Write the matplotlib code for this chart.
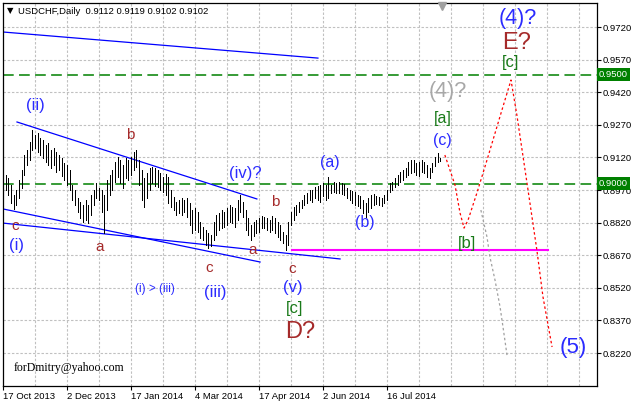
import matplotlib.pyplot as plt
import matplotlib.transforms as mtransforms
import numpy as np

# daily bars, USDCHF (bar index 1 = 17 Oct 2013)
highs = [0.9039, 0.9025, 0.8993, 0.8947, 0.8970, 0.9016, 0.9062, 0.9131, 0.9154, 0.9191,
         0.9246, 0.9223, 0.9232, 0.9209, 0.9200, 0.9177, 0.9186, 0.9154, 0.9163, 0.9145,
         0.9131, 0.9117, 0.9094, 0.9085, 0.9062, 0.8993, 0.8970, 0.8933, 0.8915, 0.8901,
         0.8924, 0.8901, 0.8947, 0.8970, 0.9002, 0.8979, 0.8970, 0.8947, 0.9016, 0.9039,
         0.9062, 0.9099, 0.9122, 0.9108, 0.9085, 0.9117, 0.9108, 0.9122, 0.9145, 0.9154,
         0.9108, 0.9062, 0.9025, 0.9048, 0.9071, 0.9076, 0.9071, 0.9062, 0.9048, 0.9030,
         0.9044, 0.9030, 0.8970, 0.8938, 0.8915, 0.8924, 0.8933, 0.8924, 0.8933, 0.8910,
         0.8878, 0.8887, 0.8869, 0.8823, 0.8800, 0.8786, 0.8772, 0.8763, 0.8823, 0.8855,
         0.8864, 0.8878, 0.8869, 0.8887, 0.8901, 0.8892, 0.8887, 0.8924, 0.8947, 0.8915,
         0.8878, 0.8841, 0.8809, 0.8823, 0.8832, 0.8841, 0.8851, 0.8846, 0.8841, 0.8832,
         0.8851, 0.8841, 0.8823, 0.8809, 0.8777, 0.8763, 0.8823, 0.8869, 0.8892, 0.8901,
         0.8915, 0.8924, 0.8947, 0.8956, 0.8970, 0.8970, 0.8984, 0.8989, 0.8993, 0.9002,
         0.8993, 0.9030, 0.8993, 0.9007, 0.9002, 0.9007, 0.9002, 0.8998, 0.8979, 0.8970,
         0.8966, 0.8961, 0.8947, 0.8943, 0.8924, 0.8910, 0.8933, 0.8947, 0.8952, 0.8943,
         0.8938, 0.8933, 0.8947, 0.8970, 0.9002, 0.9007, 0.9025, 0.9039, 0.9053, 0.9062,
         0.9071, 0.9099, 0.9108, 0.9108, 0.9094, 0.9099, 0.9108, 0.9099, 0.9085, 0.9071,
         0.9094, 0.9122, 0.9140, 0.9119]
lows = [0.8970, 0.8947, 0.8910, 0.8883, 0.8901, 0.8933, 0.8979, 0.9039, 0.9085, 0.9108,
        0.9154, 0.9163, 0.9145, 0.9131, 0.9117, 0.9099, 0.9085, 0.9071, 0.9085, 0.9053,
        0.9062, 0.9035, 0.9016, 0.8993, 0.8970, 0.8924, 0.8901, 0.8869, 0.8841, 0.8823,
        0.8832, 0.8818, 0.8855, 0.8901, 0.8933, 0.8924, 0.8869, 0.8772, 0.8878, 0.8947,
        0.8970, 0.9007, 0.9030, 0.9002, 0.8979, 0.9025, 0.9016, 0.9039, 0.9062, 0.9076,
        0.8993, 0.8924, 0.8892, 0.8933, 0.8970, 0.9002, 0.8989, 0.8984, 0.8970, 0.8961,
        0.8947, 0.8910, 0.8892, 0.8878, 0.8855, 0.8864, 0.8855, 0.8869, 0.8846, 0.8809,
        0.8772, 0.8786, 0.8777, 0.8749, 0.8740, 0.8717, 0.8703, 0.8713, 0.8740, 0.8763,
        0.8786, 0.8795, 0.8800, 0.8809, 0.8823, 0.8818, 0.8800, 0.8832, 0.8869, 0.8846,
        0.8786, 0.8763, 0.8740, 0.8759, 0.8772, 0.8777, 0.8795, 0.8795, 0.8786, 0.8777,
        0.8786, 0.8772, 0.8754, 0.8740, 0.8726, 0.8694, 0.8717, 0.8809, 0.8832, 0.8855,
        0.8869, 0.8887, 0.8901, 0.8910, 0.8924, 0.8915, 0.8933, 0.8924, 0.8915, 0.8943,
        0.8924, 0.8933, 0.8956, 0.8961, 0.8956, 0.8956, 0.8952, 0.8947, 0.8933, 0.8924,
        0.8910, 0.8901, 0.8897, 0.8887, 0.8864, 0.8846, 0.8869, 0.8887, 0.8901, 0.8906,
        0.8901, 0.8897, 0.8910, 0.8924, 0.8961, 0.8970, 0.8984, 0.8993, 0.9007, 0.9016,
        0.9030, 0.9039, 0.9048, 0.9053, 0.9039, 0.9035, 0.9053, 0.9048, 0.9030, 0.9025,
        0.9053, 0.9081, 0.9099, 0.9102]

date_labels = ['17 Oct 2013', '2 Dec 2013', '17 Jan 2014', '4 Mar 2014',
               '17 Apr 2014', '2 Jun 2014', '16 Jul 2014']
date_pos = [0, 24, 48, 72, 96, 120, 144]
price_ticks = [0.8220, 0.8370, 0.8520, 0.8670, 0.8820, 0.8970,
               0.9120, 0.9270, 0.9420, 0.9570, 0.9720]
levels = [0.9500, 0.9000]

# trend lines (bar index, price)
channel_top = ([0, 118.1], [0.9697, 0.9577])
wedge_upper = ([5.25, 95.2], [0.9283, 0.8929])
wedge_lower1 = ([0, 96.4], [0.8883, 0.8639])
wedge_lower2 = ([0, 126.4], [0.8818, 0.8653])
support = ([108.4, 204.4], [0.8694, 0.8694])

# projected path
proj_x = [165.7, 169.5, 171.4, 172.9, 174.4, 177.7, 181.5, 187.1, 190.5,
          192.7, 196.5, 200.2, 202.5, 205.9]
proj_y = [0.9131, 0.8993, 0.8864, 0.8795, 0.8832, 0.8956, 0.9108, 0.9338, 0.9476,
          0.9315, 0.9002, 0.8694, 0.8478, 0.8248]
alt_x = [179.2, 181.5, 182.6, 184.5, 186.4, 187.5, 189.0]
alt_y = [0.8878, 0.8754, 0.8662, 0.8556, 0.8432, 0.8340, 0.8211]

BLUE = '#2b2bff'
BROWN = '#a52a2a'
GREEN = '#1a7a1a'
GREY = '#a8a8a8'

# wave labels: (text, x, y, color, size)
labels = [
    ('(ii)', 12.0, 0.9361, BLUE, 12),
    ('c', 4.5, 0.8805, BROWN, 11),
    ('(i)', 5.25, 0.8713, BLUE, 12),
    ('a', 36.4, 0.8708, BROWN, 11),
    ('b', 47.6, 0.9223, BROWN, 11),
    ('(iv)?', 90.7, 0.9044, BLUE, 12),
    ('b', 102.0, 0.8915, BROWN, 11),
    ('a', 93.7, 0.8694, BROWN, 11),
    ('c', 77.2, 0.8611, BROWN, 11),
    ('(iii)', 79.5, 0.8501, BLUE, 12),
    ('(i) > (iii)', 57.0, 0.8515, BLUE, 8.5),
    ('c', 108.4, 0.8607, BROWN, 11),
    ('(v)', 108.7, 0.8520, BLUE, 12),
    ('[c]', 109.5, 0.8423, GREEN, 12),
    ('D?', 111.4, 0.8317, BROWN, 17),
    ('(a)', 122.6, 0.9099, BLUE, 11.5),
    ('(b)', 135.7, 0.8823, BLUE, 11.5),
    ('(c)', 164.6, 0.9200, BLUE, 11.5),
    ('[a]', 165.0, 0.9301, GREEN, 11.5),
    ('(4)?', 166.9, 0.9421, GREY, 15.5),
    ('(4)?', 193.1, 0.9761, BLUE, 15.5),
    ('E?', 192.7, 0.9646, BROWN, 17),
    ('[c]', 190.5, 0.9559, GREEN, 12),
    ('[b]', 174.0, 0.8726, GREEN, 12),
    ('(5)', 213.7, 0.8248, BLUE, 16),
]

plt.rcParams['font.family'] = ['Liberation Sans', 'DejaVu Sans']

fig = plt.figure(figsize=(6.32, 4.04), dpi=100)
ax = fig.add_axes([3 / 632, 18 / 404, 594 / 632, 383 / 404])
ax.set_xlim(0, 222.75)
ax.set_ylim(0.80686, 0.98304)

bars = np.arange(1, len(highs) + 1)
ax.vlines(bars, lows, highs, color='black', lw=0.72, antialiased=False, zorder=3)

# grid
grid_kw = dict(color='#c0c0c0', lw=0.8, ls=(0, (2.2, 1.6)), zorder=0)
for p in price_ticks:
    ax.axhline(p, **grid_kw)
for g in range(12, 223, 12):
    ax.axvline(g, **grid_kw)

for lv in levels:
    ax.axhline(lv, color='#008000', lw=1.1, ls=(0, (7, 3.5)), zorder=2)

for xs, ys in [channel_top, wedge_upper, wedge_lower1, wedge_lower2]:
    ax.plot(xs, ys, color='#0000ff', lw=0.9, zorder=2)
ax.plot(*support, color='#ff00ff', lw=1.5, zorder=2)

ax.plot(proj_x, proj_y, color='#ff0000', lw=0.9, ls=(0, (2, 2)), zorder=2)
ax.plot(alt_x, alt_y, color='#a0a0a0', lw=0.9, ls=(0, (2, 2)), zorder=2)

for txt, x, y, c, s in labels:
    ax.text(x, y, txt, color=c, fontsize=s, ha='center', va='center', zorder=4)

ax.text(0.018, 0.048, 'forDmitry@yahoo.com', transform=ax.transAxes,
        family='Liberation Serif', fontsize=8.5, color='black', va='center')

# axes styling
ax.yaxis.tick_right()
ax.set_yticks(price_ticks)
ax.set_yticklabels(['%.4f' % p for p in price_ticks])
ax.set_xticks(date_pos)
ax.set_xticklabels(date_labels, ha='left')
ax.tick_params(axis='y', length=3, pad=1, labelsize=6.8, width=0.8)
ax.tick_params(axis='x', length=3, pad=1.5, labelsize=6.8, width=0.8)
for sp in ax.spines.values():
    sp.set_color('black')
    sp.set_linewidth(0.9)

# level tags on the price scale
trans = mtransforms.blended_transform_factory(ax.transAxes, ax.transData)
for lv in levels:
    ax.text(1.003, lv, '%.4f' % lv, transform=trans, color='white', fontsize=6.8,
            ha='left', va='center', clip_on=False, zorder=5,
            bbox=dict(boxstyle='square,pad=0.2', fc='#008000', ec='none'))

# chart shift marker
ax.plot([164.6], [0.9815], marker='v', color='#a0a0a0', ms=6, clip_on=False, zorder=5)

fig.text(7 / 632, 1 - 11 / 404, '\u25bc', family='DejaVu Sans', fontsize=6,
         va='center', ha='left')
fig.text(18 / 632, 1 - 11 / 404, 'USDCHF,Daily  0.9112 0.9119 0.9102 0.9102',
         fontsize=6.8, va='center', ha='left')

fig.savefig('out.png', dpi=100)
